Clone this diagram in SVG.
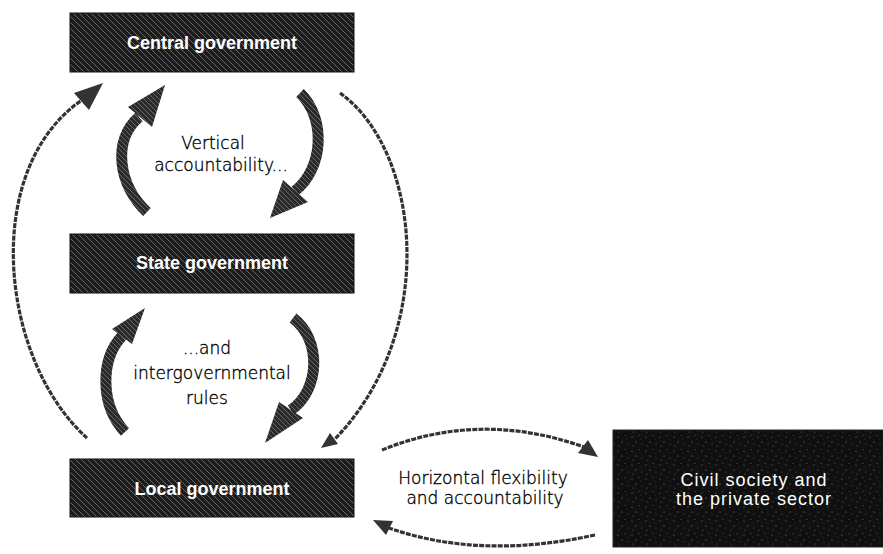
<svg xmlns="http://www.w3.org/2000/svg" width="883" height="554" viewBox="0 0 883 554">
  <defs>
    <pattern id="hatch" width="6" height="6" patternUnits="userSpaceOnUse">
      <rect width="6" height="6" fill="#1c1c1c"/>
      <path d="M-1,-1 L7,7 M-4,2 L1,7 M2,-4 L7,1" stroke="#8a8a8a" stroke-width="0.9" opacity="0.75"/>
    </pattern>
    <pattern id="arrowhatch" width="5" height="5" patternUnits="userSpaceOnUse">
      <rect width="5" height="5" fill="#2a2a2a"/>
      <path d="M-1,-1 L6,6 M-3,2 L0,5 M2,-3 L5,0" stroke="#9a9a9a" stroke-width="0.8" opacity="0.7"/>
    </pattern>
    <pattern id="speckle" width="14" height="14" patternUnits="userSpaceOnUse">
      <rect width="14" height="14" fill="#101010"/>
      <circle cx="2" cy="3" r="0.6" fill="#777"/>
      <circle cx="9" cy="1.5" r="0.5" fill="#666"/>
      <circle cx="6" cy="8" r="0.6" fill="#888"/>
      <circle cx="12" cy="10" r="0.5" fill="#666"/>
      <circle cx="3" cy="12" r="0.5" fill="#777"/>
      <circle cx="11" cy="5" r="0.4" fill="#555"/>
    </pattern>
  </defs>
  <style>
    .box { fill: url(#hatch); stroke: #111; stroke-width: 1; }
    .civil { fill: url(#speckle); stroke: #222; stroke-width: 1; }
    .boxlabel { font-family: "Liberation Sans", Arial, sans-serif; font-weight: bold; font-size: 18px; fill: #ffffff; text-anchor: middle; }
    .civillabel { font-family: "Liberation Sans", Arial, sans-serif; font-size: 18px; letter-spacing: 1px; fill: #ffffff; text-anchor: middle; }
    .label { font-family: "DejaVu Sans", "Liberation Sans", sans-serif; font-weight: 200; font-size: 17px; fill: #000; stroke: #000; stroke-width: 0.35; text-anchor: middle; }
    .thick { fill: none; stroke: url(#arrowhatch); stroke-width: 11; stroke-linecap: butt; }
    .thickhead { fill: url(#arrowhatch); }
    .thin { fill: none; stroke: #333; stroke-width: 3.2; stroke-dasharray: 5 1.2; }
    .thinhead { fill: #333; }
  </style>
  <rect width="883" height="554" fill="#ffffff"/>

  <g id="connectors">
    <!-- thick top-left: State -> Central -->
    <path class="thick" d="M147,212 C118,185 112,140 139,117"/>
    <polygon class="thickhead" points="165,85 152,127 128,107"/>
    <!-- thick top-right: Central -> State -->
    <path class="thick" d="M300,93 C326,118 324,168 295,191"/>
    <polygon class="thickhead" points="270,218 283,180 308,202"/>
    <!-- thick lower-left: Local -> State -->
    <path class="thick" d="M125,432 C100,405 100,360 122,336"/>
    <polygon class="thickhead" points="145,308 132,344 112,329"/>
    <!-- thick lower-right: State -> Local -->
    <path class="thick" d="M293,318 C322,340 320,390 291,410"/>
    <polygon class="thickhead" points="265,443 279,402 303,418"/>
    <!-- outer left thin: Local -> Central -->
    <path class="thin" d="M87,438 C0,360 -20,170 82,100"/>
    <polygon class="thinhead" points="103,83 89,110 74,93"/>
    <!-- outer right thin: Central -> Local -->
    <path class="thin" d="M340,93 C420,150 440,330 335,439"/>
    <polygon class="thinhead" points="321,448 330,433 338,444"/>
    <!-- horizontal top: Local -> Civil -->
    <path class="thin" d="M382,450 Q480,410 584,447"/>
    <polygon class="thinhead" points="598,457 578,453 588,440"/>
    <!-- horizontal bottom: Civil -> Local -->
    <path class="thin" d="M595,535 Q480,560 389,528"/>
    <polygon class="thinhead" points="373,520 393,521 386,535"/>
  </g>

  <g id="central">
    <rect class="box" x="70" y="13" width="284" height="59"/>
    <text class="boxlabel" x="212" y="49">Central government</text>
  </g>
  <g id="state">
    <rect class="box" x="70" y="234" width="284" height="59"/>
    <text class="boxlabel" x="212" y="269">State government</text>
  </g>
  <g id="local">
    <rect class="box" x="70" y="459" width="284" height="58"/>
    <text class="boxlabel" x="212" y="495">Local government</text>
  </g>
  <g id="civil">
    <rect class="civil" x="613" y="430" width="270" height="117"/>
    <text class="civillabel" x="754" y="486">Civil society and</text>
    <text class="civillabel" x="754" y="505">the private sector</text>
  </g>

  <g id="labels">
    <text class="label" x="213" y="149">Vertical</text>
    <text class="label" x="221" y="171">accountability...</text>
    <text class="label" x="207" y="354">...and</text>
    <text class="label" x="212" y="379">intergovernmental</text>
    <text class="label" x="207" y="404">rules</text>
    <text class="label" x="483" y="484">Horizontal flexibility</text>
    <text class="label" x="485" y="504">and accountability</text>
  </g>
</svg>
